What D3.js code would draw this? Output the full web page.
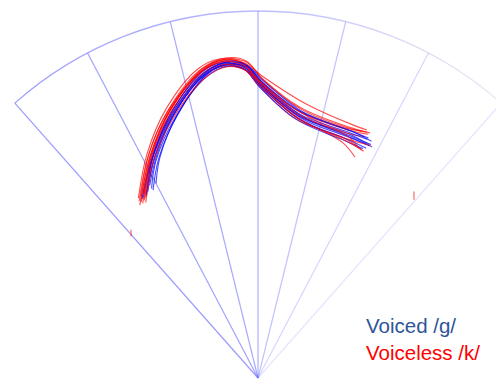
<!DOCTYPE html>
<html>
<head>
<meta charset="utf-8">
<script src="https://cdn.jsdelivr.net/npm/d3@7"></script>
<style>
  body { margin: 0; background: #fff; }
  svg { display: block; }
  .legend { font-family: "Liberation Sans", Arial, sans-serif; font-size: 20.5px; }
</style>
</head>
<body>
<script>
// fan geometry (mm): probe at origin, radius 100
const fanRadius = 100;
const fanAngles = [-41.5, -27.67, -13.83, 0, 13.83, 27.67, 41.5];

// tongue contours, [x mm, y mm]
const voiced = [
  [[-30.5,50.0],[-28.0,60.5],[-22.8,72.0],[-14.5,82.6],[-8.8,85.4],[-3.3,84.4],[1.0,79.8],[11.5,71.2],[25.5,66.2],[31.1,62.9]],
  [[-28.6,51.2],[-27.0,60.0],[-22.0,71.5],[-14.0,82.8],[-8.5,85.6],[-3.0,84.6],[1.4,79.5],[11.8,70.8],[25.0,65.5],[30.4,63.2]],
  [[-31.2,49.2],[-28.6,60.2],[-23.0,72.3],[-14.6,83.3],[-8.9,86.0],[-3.4,85.1],[0.8,80.4],[11.0,72.1],[24.8,66.9],[29.8,65.0]],
  [[-29.5,52.5],[-27.5,61.0],[-22.3,72.8],[-13.8,83.5],[-8.2,86.1],[-2.7,85.0],[1.6,80.0],[12.0,71.4],[25.8,65.7],[30.8,63.6]],
  [[-30.0,50.8],[-28.3,59.8],[-23.3,71.3],[-14.9,82.3],[-9.2,85.2],[-3.7,84.1],[0.5,79.2],[10.6,70.4],[24.0,64.5],[28.6,62.5]],
  [[-27.8,53.0],[-26.6,60.6],[-21.8,72.0],[-13.6,82.9],[-8.0,85.5],[-2.5,84.6],[1.8,80.6],[12.4,72.4],[26.0,67.1],[30.9,64.5]],
  [[-31.6,48.8],[-29.0,59.5],[-23.6,71.8],[-15.0,82.8],[-9.4,85.7],[-3.9,84.8],[0.6,80.0],[10.8,71.8],[24.5,65.9],[29.4,63.8]],
  [[-29.0,51.6],[-27.8,59.2],[-22.6,70.9],[-14.2,81.9],[-8.6,84.9],[-3.1,83.8],[1.2,79.0],[11.2,70.6],[24.6,64.9],[29.5,62.6]],
  [[-30.4,49.6],[-28.4,61.2],[-23.2,73.0],[-14.8,83.7],[-9.0,86.3],[-3.5,85.4],[0.9,80.8],[11.6,72.6],[25.2,67.3],[30.1,65.4]]
];

const voiceless = [
  [[-32.2,47.1],[-29.4,60.5],[-24.0,72.8],[-15.5,83.5],[-9.5,86.4],[-3.8,85.9],[1.5,82.0],[13.0,74.7],[26.5,68.7],[29.7,67.6]],
  [[-31.8,48.0],[-29.0,61.0],[-23.8,73.5],[-15.2,84.0],[-9.2,86.8],[-3.6,85.6],[0.8,81.0],[11.2,72.6],[24.4,66.7],[29.0,65.8]],
  [[-32.0,49.5],[-29.6,61.5],[-24.4,73.0],[-15.8,83.2],[-9.8,85.9],[-4.2,84.6],[0.2,80.0],[10.5,71.2],[23.0,64.2],[26.4,60.2]],
  [[-31.0,48.4],[-28.8,60.0],[-23.5,71.8],[-15.0,82.4],[-9.0,85.0],[-3.5,83.9],[0.4,79.4],[10.2,70.6],[23.6,65.3],[28.2,62.2]],
  [[-32.4,48.2],[-30.0,60.2],[-24.8,72.4],[-16.2,83.6],[-10.0,86.6],[-4.4,85.8],[0.0,81.2],[10.8,72.8],[24.8,67.5],[30.0,66.4]],
  [[-30.8,49.0],[-28.2,61.8],[-22.9,73.6],[-14.6,84.2],[-8.6,86.9],[-3.0,86.0],[1.2,81.4],[11.8,73.2],[25.4,67.9],[30.5,66.8]],
  [[-31.4,47.6],[-29.2,59.6],[-24.2,71.6],[-15.6,82.6],[-9.6,85.4],[-4.0,84.2],[0.6,79.6],[10.8,70.8],[24.2,64.5],[28.8,61.8]],
  [[-32.6,49.0],[-30.2,61.2],[-25.0,73.4],[-16.4,84.2],[-10.2,87.0],[-4.6,86.2],[-0.2,81.6],[10.0,73.4],[23.8,68.1],[28.4,67.2]],
  [[-31.2,50.2],[-28.6,62.0],[-23.2,74.0],[-14.8,84.6],[-8.8,87.2],[-3.2,86.4],[1.0,81.8],[11.4,73.8],[25.0,68.3],[29.6,67.0]],
  [[-30.6,47.8],[-28.4,59.4],[-23.0,71.0],[-14.4,81.8],[-8.4,84.8],[-2.9,83.6],[1.6,79.0],[11.6,70.2],[25.6,64.7],[30.6,63.4]],
  [[-31.9,48.6],[-29.3,60.8],[-24.0,72.9],[-15.4,83.4],[-9.4,86.2],[-3.8,85.1],[0.6,80.6],[10.6,72.0],[24.2,66.1],[27.4,62.8]]
];

// two stray /k/ fragments
const strays = [
  [[-34.6,38.6],[-34.6,40.4]],
  [[42.5,48.6],[42.5,50.8]]
];

const legendLabels = ["Voiced /g/", "Voiceless /k/"];
const legendColors = ["#2f5597", "#ff0000"];

const width = 496, height = 380;
const svg = d3.select("body").append("svg")
  .attr("width", width)
  .attr("height", height);

const x = d3.scaleLinear().domain([-100, 100]).range([258 - 367, 258 + 367]);
const y = d3.scaleLinear().domain([0, 100]).range([378, 11]);

// fading gradient for the outer arc
const grad = svg.append("defs").append("linearGradient")
  .attr("id", "fade")
  .attr("gradientUnits", "userSpaceOnUse")
  .attr("x1", x(-70)).attr("x2", x(70))
  .attr("y1", 0).attr("y2", 0);
grad.append("stop").attr("offset", "0%").attr("stop-color", "#7b7bff").attr("stop-opacity", 0.75);
grad.append("stop").attr("offset", "50%").attr("stop-color", "#8c8cff").attr("stop-opacity", 0.6);
grad.append("stop").attr("offset", "100%").attr("stop-color", "#b0b0d8").attr("stop-opacity", 0.25);

const rad = d => d * Math.PI / 180;
const radialOpacity = d3.scaleLinear().domain([-41.5, 0, 41.5]).range([0.7, 0.55, 0.18]);

const fan = svg.append("g").attr("class", "fan");
fan.selectAll("line.ray")
  .data(fanAngles)
  .join("line")
  .attr("class", "ray")
  .attr("x1", x(0)).attr("y1", y(0))
  .attr("x2", d => x(fanRadius * Math.sin(rad(d))))
  .attr("y2", d => y(fanRadius * Math.cos(rad(d))))
  .attr("stroke", "#6f6fff")
  .attr("stroke-width", 1.2)
  .attr("stroke-opacity", d => radialOpacity(d));

const pxR = x(fanRadius) - x(0);
const arcPath = d3.path();
arcPath.arc(x(0), y(0), pxR, rad(-90 + fanAngles[0]), rad(-90 + fanAngles[fanAngles.length - 1]));
fan.append("path")
  .attr("d", arcPath.toString())
  .attr("fill", "none")
  .attr("stroke", "url(#fade)")
  .attr("stroke-width", 1.3);

const line = d3.line()
  .x(d => x(d[0]))
  .y(d => y(d[1]))
  .curve(d3.curveCatmullRom.alpha(0.5));

// interleave the two sets so neither sits fully on top
const contours = [];
const n = Math.max(voiced.length, voiceless.length);
for (let i = 0; i < n; i++) {
  if (voiceless[i]) contours.push({ pts: voiceless[i], color: "#ff0000" });
  if (voiced[i]) contours.push({ pts: voiced[i], color: "#0000ff" });
}

svg.append("g").selectAll("path")
  .data(contours)
  .join("path")
  .attr("d", d => line(d.pts))
  .attr("fill", "none")
  .attr("stroke", d => d.color)
  .attr("stroke-width", 1.1)
  .attr("stroke-opacity", 0.7);

svg.append("g").selectAll("path")
  .data(strays)
  .join("path")
  .attr("d", d => d3.line().x(p => x(p[0])).y(p => y(p[1]))(d))
  .attr("stroke", "#ff0000")
  .attr("stroke-width", 1.2)
  .attr("stroke-opacity", 0.6);

svg.append("g").selectAll("text")
  .data(legendLabels)
  .join("text")
  .attr("class", "legend")
  .attr("x", 366)
  .attr("y", (d, i) => 333 + i * 27)
  .attr("fill", (d, i) => legendColors[i])
  .text(d => d);
</script>
</body>
</html>
